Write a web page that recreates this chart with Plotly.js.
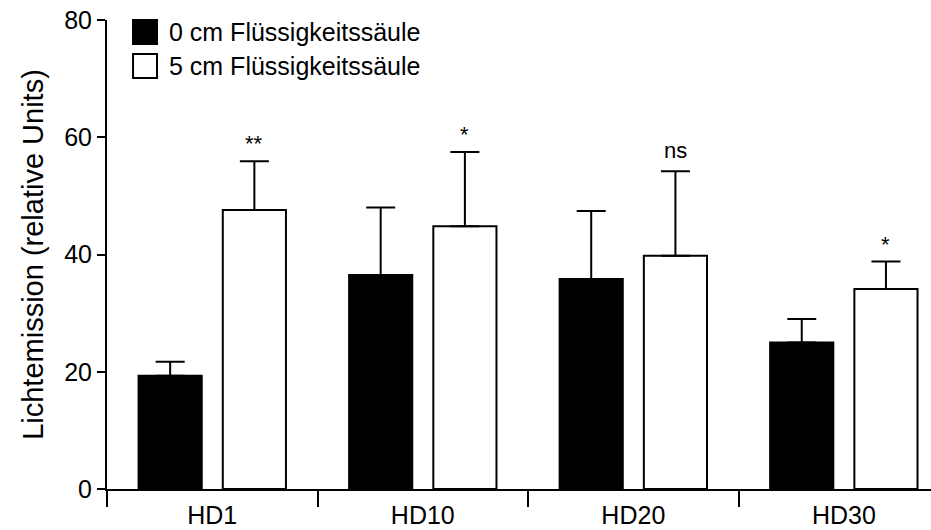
<!DOCTYPE html>
<html>
<head>
<meta charset="utf-8">
<script src="https://cdn.plot.ly/plotly-3.0.1.min.js"></script>
<style>html,body{margin:0;padding:0;background:#fff;}#chart{width:931px;height:530px;}</style>
</head>
<body>
<div id="chart"></div>
<script>
var categories = ['HD1', 'HD10', 'HD20', 'HD30'];
var seriesNames = ['0 cm Flüssigkeitssäule', '5 cm Flüssigkeitssäule'];
var values0cm = [19.3, 36.5, 35.8, 25.0];
var errors0cm = [2.4, 11.5, 11.6, 4.0];
var values5cm = [47.6, 44.8, 39.8, 34.1];
var errors5cm = [8.3, 12.7, 14.4, 4.7];
var significance = ['**', '*', 'ns', '*'];
var yTitle = 'Lichtemission (relative Units)';

var FONT = 'Liberation Sans, Arial, Helvetica, sans-serif';

function zeros(n){ var a=[]; for(var i=0;i<n;i++) a.push(0); return a; }

var traces = [
  {
    type: 'bar', name: seriesNames[0], x: categories, y: values0cm,
    marker: {color: '#000000', line: {color: '#000000', width: 2}},
    error_y: {type: 'data', symmetric: false, array: errors0cm, arrayminus: zeros(errors0cm.length),
              color: '#000000', thickness: 2, width: 14.5},
    showlegend: false
  },
  {
    type: 'bar', name: seriesNames[1], x: categories, y: values5cm,
    marker: {color: '#ffffff', line: {color: '#000000', width: 2}},
    error_y: {type: 'data', symmetric: false, array: errors5cm, arrayminus: zeros(errors5cm.length),
              color: '#000000', thickness: 2, width: 14.5},
    showlegend: false
  }
];

var annotations = [];
for (var i = 0; i < categories.length; i++) {
  var isNs = significance[i] === 'ns';
  annotations.push({
    x: i + 0.2, xref: 'x', y: values5cm[i] + errors5cm[i], yref: 'y',
    text: significance[i], showarrow: false, xanchor: 'center', yanchor: 'bottom',
    yshift: isNs ? 6 : 3,
    font: {family: FONT, size: 22, color: '#000'}
  });
}
// legend labels
annotations.push({x: 0.0728, xref: 'paper', y: 0.9744, yref: 'paper', text: seriesNames[0],
  showarrow: false, xanchor: 'left', yanchor: 'middle', font: {family: FONT, size: 25, color: '#000'}});
annotations.push({x: 0.0728, xref: 'paper', y: 0.9019, yref: 'paper', text: seriesNames[1],
  showarrow: false, xanchor: 'left', yanchor: 'middle', font: {family: FONT, size: 25, color: '#000'}});

var shapes = [
  {type: 'rect', xref: 'paper', yref: 'paper', x0: 0.0316, x1: 0.0607, y0: 0.9488, y1: 1.0,
   fillcolor: '#000', line: {color: '#000', width: 2}},
  {type: 'rect', xref: 'paper', yref: 'paper', x0: 0.0316, x1: 0.0607, y0: 0.8763, y1: 0.9275,
   fillcolor: '#fff', line: {color: '#000', width: 2}}
];

var layout = {
  width: 931, height: 530,
  margin: {l: 107, r: 0, t: 20, b: 41, pad: 0},
  paper_bgcolor: '#fff', plot_bgcolor: '#fff',
  font: {family: FONT, color: '#000'},
  barmode: 'group', bargap: 0.2, bargroupgap: 0.25,
  showlegend: false,
  xaxis: {
    type: 'category', range: [-0.5, 3.414], autorange: false,
    showline: true, linecolor: '#000', linewidth: 2,
    ticks: 'outside', tickson: 'boundaries', ticklen: 16, tickwidth: 2, tickcolor: '#000',
    tickfont: {family: FONT, size: 25, color: '#000'},
    ticklabelstandoff: 3,
    showgrid: false, zeroline: false, fixedrange: true
  },
  yaxis: {
    range: [0, 80], autorange: false, tickvals: [0, 20, 40, 60, 80],
    showline: true, linecolor: '#000', linewidth: 2,
    ticks: 'outside', ticklen: 8, tickwidth: 2, tickcolor: '#000',
    tickfont: {family: FONT, size: 25, color: '#000'},
    ticklabelstandoff: 0,
    showgrid: false, zeroline: false,
    title: {text: yTitle, font: {family: FONT, size: 29, color: '#000'}, standoff: 12},
    fixedrange: true
  },
  annotations: annotations,
  shapes: shapes
};

Plotly.newPlot('chart', traces, layout, {displayModeBar: false, staticPlot: true});
</script>
</body>
</html>
